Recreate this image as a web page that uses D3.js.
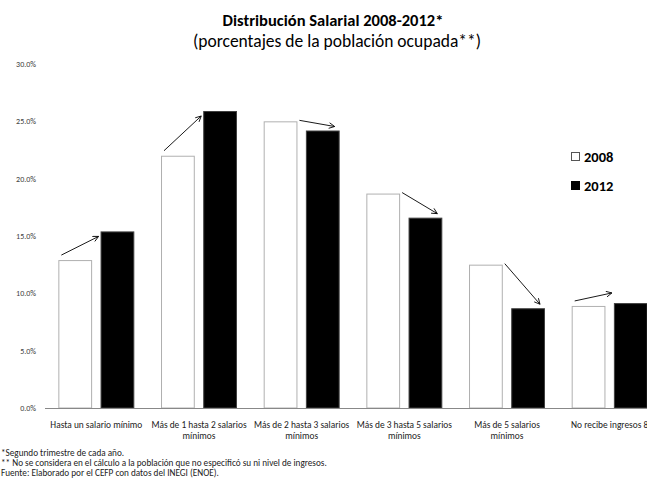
<!DOCTYPE html>
<html><head><meta charset="utf-8">
<script src="https://cdn.jsdelivr.net/npm/d3@7/dist/d3.min.js"></script>
<style>
html,body{margin:0;padding:0;background:#fff;}
svg{display:block;font-family:Carlito, Lato, "Open Sans", sans-serif;}
</style></head>
<body><svg id="c" width="647" height="485"></svg>
<script>
const categories = [
  ["Hasta un salario mínimo"],
  ["Más de 1 hasta  2 salarios", "mínimos"],
  ["Más de 2 hasta  3 salarios", "mínimos"],
  ["Más de 3 hasta  5 salarios", "mínimos"],
  ["Más de 5 salarios", "mínimos"],
  ["No recibe ingresos 8"]
];
const series = ["2008", "2012"];
const values2008 = [12.9, 22.0, 25.0, 18.7, 12.5, 8.9];
const values2012 = [15.4, 25.9, 24.2, 16.6, 8.7, 9.15];
const yTicks = [0, 5, 10, 15, 20, 25, 30];
const titleText = "Distribución Salarial 2008-2012*";
const subtitleText = "(porcentajes de la población ocupada**)";
const footnotes = [
  "*Segundo trimestre de cada año.",
  "** No se considera en el cálculo a la población que no especificó su  ni nivel de ingresos.",
  "Fuente: Elaborado por el CEFP con datos del INEGI (ENOE)."
];

const svg = d3.select("#c");
const x0 = d3.scaleBand().domain(d3.range(categories.length)).range([45, 661]).paddingInner(0.26).paddingOuter(0.13);
const x1 = d3.scaleBand().domain(series).range([0, x0.bandwidth()]).paddingInner(0.2);
const y = d3.scaleLinear().domain([0, 30]).range([408, 64]);

// title
svg.append("text").attr("x", 333).attr("y", 26).attr("text-anchor", "middle")
  .attr("font-weight", "bold").attr("font-size", 16.5).attr("fill", "#000").text(titleText);
svg.append("text").attr("x", 337).attr("y", 47).attr("text-anchor", "middle")
  .attr("font-size", 17.5).attr("fill", "#000").text(subtitleText);

// y axis labels
const yAxis = d3.axisLeft(y).tickValues(yTicks).tickFormat(d => d.toFixed(1) + "%").tickSize(0).tickPadding(0);
const ya = svg.append("g").attr("transform", "translate(36,0)").call(yAxis);
ya.select(".domain").remove();
ya.selectAll("text").attr("font-size", 8).attr("fill", "#404040").attr("font-family", "Carlito, Lato, sans-serif");

// bars
const data = categories.map((c, i) => ({i, v: [values2008[i], values2012[i]]}));
const g = svg.append("g");
data.forEach(d => {
  series.forEach((s, k) => {
    g.append("rect")
      .attr("x", x0(d.i) + x1(s) + 0.5)
      .attr("y", y(d.v[k]) + 0.5)
      .attr("width", x1.bandwidth() - 1)
      .attr("height", y(0) - y(d.v[k]) - 0.5)
      .attr("fill", k === 0 ? "#fff" : "#000")
      .attr("stroke", k === 0 ? "#b0b0b0" : "#404040")
      .attr("stroke-width", 1);
  });
});

// x axis line
svg.append("line").attr("x1", 45).attr("x2", 647).attr("y1", 408.5).attr("y2", 408.5)
  .attr("stroke", "#888").attr("stroke-width", 1);

// category labels
categories.forEach((lines, i) => {
  const t = svg.append("text").attr("text-anchor", "middle").attr("font-size", 9.4).attr("fill", "#222");
  lines.forEach((ln, j) => {
    t.append("tspan").attr("x", x0(i) + x0.bandwidth() / 2).attr("y", 427.5 + j * 11).text(ln);
  });
});

// arrows
svg.append("defs").append("marker").attr("id", "ah").attr("viewBox", "0 0 10 10")
  .attr("refX", 9).attr("refY", 5).attr("markerWidth", 7).attr("markerHeight", 7)
  .attr("orient", "auto").attr("markerUnits", "userSpaceOnUse")
  .append("path").attr("d", "M1,1 L9,5 L1,9").attr("fill", "none").attr("stroke", "#000").attr("stroke-width", 1.2);
data.forEach(d => {
  const bw = x1.bandwidth();
  const xW = x0(d.i) + x1(series[0]);
  const xB = x0(d.i) + x1(series[1]);
  const yW = y(d.v[0]), yB = y(d.v[1]);
  let sx, sy, ex, ey;
  if (d.v[1] >= d.v[0]) {
    sx = xW + 3; sy = yW - 5;
    ex = xB - 2; ey = Math.min(yB + 5, sy - 8);
  } else {
    sx = xW + bw + 2; sy = yW - 1;
    ex = xB + bw - 5; ey = yB - 4;
  }
  svg.append("line").attr("x1", sx).attr("y1", sy).attr("x2", ex).attr("y2", ey)
    .attr("stroke", "#000").attr("stroke-width", 0.9).attr("marker-end", "url(#ah)");
});

// legend
const leg = svg.append("g");
series.forEach((s, k) => {
  const ly = 152 + k * 29;
  leg.append("rect").attr("x", 571.5).attr("y", ly + 0.5).attr("width", 8).attr("height", 8)
    .attr("fill", k === 0 ? "#fff" : "#000").attr("stroke", k === 0 ? "#555" : "#000").attr("stroke-width", 1);
  leg.append("text").attr("x", 584).attr("y", ly + 9.5).attr("font-size", 14.5).attr("font-weight", "bold")
    .attr("fill", "#000").text(s);
});

// footnotes
footnotes.forEach((f, i) => {
  svg.append("text").attr("x", 1).attr("y", 455.5 + i * 10.3).attr("font-size", 9.2).attr("fill", "#222").text(f);
});
</script></body></html>
